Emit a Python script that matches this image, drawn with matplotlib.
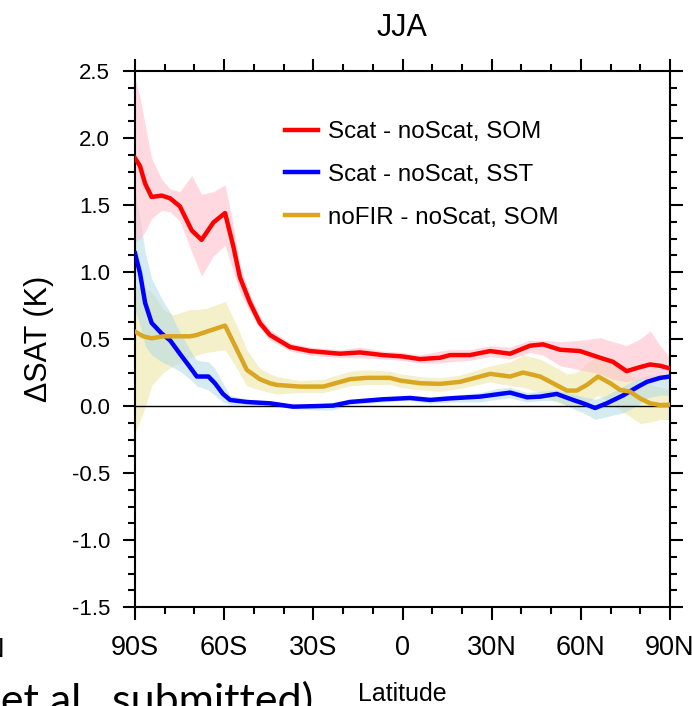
import numpy as np
import matplotlib.pyplot as plt
from matplotlib.ticker import MultipleLocator

plt.rcParams['font.family'] = ['Liberation Sans', 'DejaVu Sans']

# Scat - noScat, SOM (red)
lat_red = [-90, -88.3, -86.6, -84.4, -81, -78.2, -74.9, -70.9, -67.6, -63.6, -59.7, -56.9,
           -54.7, -51.3, -48, -44.6, -37.8, -31.1, -21, -14.3, -6.6, 0, 5.9, 12.6, 16,
           22.7, 29.5, 36.2, 42.9, 47.3, 53, 59.7, 66.5, 70.8, 75.4, 79.9, 83.3, 86.7, 90]
red = [1.85, 1.79, 1.66, 1.56, 1.57, 1.55, 1.49, 1.31, 1.24, 1.37, 1.44, 1.19,
       0.96, 0.77, 0.62, 0.53, 0.44, 0.41, 0.39, 0.40, 0.38, 0.37, 0.35, 0.36, 0.38,
       0.38, 0.41, 0.39, 0.45, 0.46, 0.42, 0.41, 0.36, 0.33, 0.26, 0.29, 0.31, 0.30, 0.28]
red_lo = [1.22, 1.25, 1.30, 1.40, 1.46, 1.45, 1.38, 1.15, 0.97, 1.12, 1.20, 1.00,
          0.85, 0.70, 0.58, 0.49, 0.41, 0.38, 0.36, 0.36, 0.35, 0.34, 0.32, 0.32, 0.33,
          0.34, 0.37, 0.35, 0.40, 0.38, 0.30, 0.27, 0.24, 0.20, 0.18, 0.20, 0.20, 0.22, 0.22]
red_hi = [2.45, 2.30, 2.10, 1.85, 1.69, 1.62, 1.60, 1.72, 1.58, 1.60, 1.65, 1.35,
          1.05, 0.83, 0.67, 0.57, 0.47, 0.44, 0.42, 0.44, 0.41, 0.40, 0.38, 0.41, 0.42,
          0.42, 0.45, 0.44, 0.49, 0.49, 0.48, 0.49, 0.51, 0.48, 0.45, 0.50, 0.56, 0.45, 0.36]

# Scat - noScat, SST (blue)
lat_blue = [-90, -88.3, -86.6, -84.4, -81, -78.2, -74.9, -71.5, -69.2, -65.3, -63.1, -60.4,
            -58, -52.4, -44.6, -36.8, -27.8, -23.4, -17.7, -6.6, 0, 2.5, 9.3, 16, 26.1,
            31.8, 36.2, 41.9, 46.3, 51.9, 57.4, 60.8, 64.8, 68.7, 74.3, 78.9, 82.2, 86.7, 90]
blue = [1.14, 0.99, 0.77, 0.62, 0.54, 0.49, 0.39, 0.29, 0.22, 0.22, 0.17, 0.09,
        0.045, 0.03, 0.02, -0.005, 0.0, 0.003, 0.03, 0.05, 0.057, 0.06, 0.045, 0.057, 0.07,
        0.087, 0.10, 0.065, 0.07, 0.09, 0.045, 0.02, -0.015, 0.02, 0.08, 0.14, 0.18, 0.21, 0.22]
blue_lo = [0.72, 0.60, 0.45, 0.38, 0.33, 0.30, 0.26, 0.20, 0.15, 0.12, 0.08, 0.03,
           0.01, 0.01, 0.0, -0.02, -0.03, -0.03, 0.01, 0.03, 0.04, 0.04, 0.02, 0.03, 0.03,
           0.05, 0.06, 0.03, 0.04, 0.04, -0.02, -0.05, -0.10, -0.08, -0.05, 0.0, 0.06, 0.08, 0.08]
blue_hi = [1.60, 1.40, 1.15, 0.95, 0.80, 0.70, 0.55, 0.42, 0.34, 0.33, 0.28, 0.17,
           0.08, 0.05, 0.04, 0.01, 0.02, 0.03, 0.05, 0.07, 0.075, 0.08, 0.07, 0.08, 0.10,
           0.13, 0.14, 0.10, 0.11, 0.12, 0.09, 0.07, 0.05, 0.08, 0.15, 0.20, 0.23, 0.23, 0.24]

# noFIR - noScat, SOM (gold)
lat_gold = [-90, -87.2, -84.4, -80.5, -77.1, -71.5, -69.2, -65.9, -59.7, -55.7, -52.4, -48,
            -44.6, -42.3, -34.5, -26.6, -17.7, -12, -4.2, -0.8, 5.9, 12.6, 19.3, 29.5, 36.2,
            40.6, 46.3, 50.6, 55.3, 58.6, 62, 65.8, 69.9, 73.2, 76.6, 79.9, 83.3, 86.7, 90]
gold = [0.555, 0.52, 0.505, 0.52, 0.52, 0.52, 0.53, 0.555, 0.60, 0.42, 0.27, 0.20,
        0.17, 0.157, 0.145, 0.145, 0.20, 0.21, 0.21, 0.19, 0.17, 0.165, 0.18, 0.24, 0.22,
        0.25, 0.22, 0.17, 0.115, 0.115, 0.157, 0.22, 0.17, 0.12, 0.107, 0.057, 0.02, 0.007, 0.01]
gold_lo = [-0.20, -0.05, 0.15, 0.25, 0.30, 0.36, 0.38, 0.40, 0.42, 0.28, 0.15, 0.12,
           0.10, 0.09, 0.10, 0.10, 0.15, 0.16, 0.16, 0.14, 0.12, 0.11, 0.13, 0.18, 0.15,
           0.14, 0.10, 0.04, 0.0, -0.01, 0.02, 0.08, 0.03, -0.03, -0.08, -0.13, -0.12, -0.10, -0.10]
gold_hi = [0.90, 0.88, 0.85, 0.72, 0.68, 0.72, 0.72, 0.73, 0.78, 0.60, 0.42, 0.28,
           0.24, 0.22, 0.19, 0.20, 0.26, 0.27, 0.26, 0.24, 0.22, 0.21, 0.23, 0.30, 0.33,
           0.38, 0.35, 0.30, 0.24, 0.25, 0.32, 0.38, 0.33, 0.27, 0.23, 0.20, 0.16, 0.14, 0.12]

fig = plt.figure(figsize=(6.92, 7.06), dpi=100)
ax = fig.add_axes([135 / 692, 1 - 607 / 706, 535 / 692, 536 / 706])

# spread bands
ax.fill_between(lat_gold, gold_lo, gold_hi, color='#eee6a8', alpha=0.6, lw=0)
ax.fill_between(lat_blue, blue_lo, blue_hi, color='#add8e6', alpha=0.5, lw=0)
ax.fill_between(lat_red, red_lo, red_hi, color='#ffc0cb', alpha=0.6, lw=0)

ax.axhline(0, color='black', lw=1, zorder=2)

ax.plot(lat_red, red, color='red', lw=3.2, label='Scat - noScat, SOM', zorder=4)
ax.plot(lat_blue, blue, color='blue', lw=3.2, label='Scat - noScat, SST', zorder=3)
ax.plot(lat_gold, gold, color='goldenrod', lw=3.2, label='noFIR - noScat, SOM', zorder=3)

ax.set_xlim(-90, 90)
ax.set_ylim(-1.5, 2.5)
ax.set_xticks([-90, -60, -30, 0, 30, 60, 90])
ax.set_xticklabels(['90S', '60S', '30S', '0', '30N', '60N', '90N'], fontsize=19.5)
ax.set_yticks(np.arange(-1.5, 2.51, 0.5))
ax.set_yticklabels(['-1.5', '-1.0', '-0.5', '0.0', '0.5', '1.0', '1.5', '2.0', '2.5'], fontsize=16)
ax.xaxis.set_minor_locator(MultipleLocator(10))
ax.yaxis.set_minor_locator(MultipleLocator(0.125))
ax.tick_params(which='both', direction='out', top=True, right=True, width=1.5)
ax.tick_params(which='major', length=9)
ax.tick_params(axis='y', which='major', pad=9)
ax.tick_params(axis='x', which='major', pad=11)
ax.tick_params(which='minor', length=5)
for s in ax.spines.values():
    s.set_linewidth(1.5)

ax.set_title('JJA', fontsize=22, pad=25)
ax.set_ylabel('\u0394SAT (K)', fontsize=22, labelpad=13)
ax.set_xlabel('Latitude', fontsize=18, labelpad=15)

leg = ax.legend(loc='upper left', bbox_to_anchor=((285 - 135) / 535, (607 - 121) / 536),
                frameon=False, fontsize=17.4, handlelength=1.35, handletextpad=0.45,
                labelspacing=0.86, borderpad=0, borderaxespad=0)

# cropped pieces from the slide
fig.text(313 / 692, -8 / 706, '(Author et al., submitted)', ha='right', va='baseline',
         fontsize=31, family=['Lato', 'DejaVu Sans'])
fig.text(5 / 692, 1 - 657 / 706, '90N', ha='right', va='baseline', fontsize=19.5)

fig.savefig('out.png', dpi=100)
